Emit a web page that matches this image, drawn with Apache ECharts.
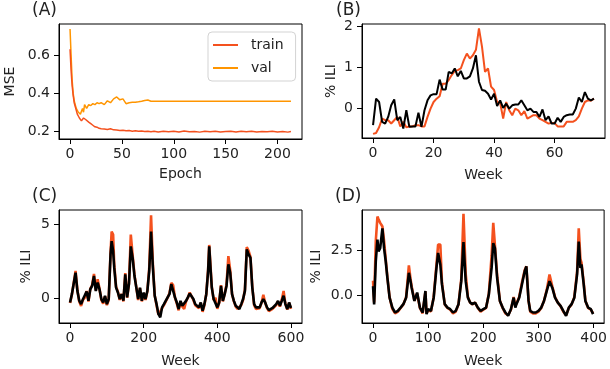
<!DOCTYPE html>
<html>
<head>
<meta charset="utf-8">
<script src="https://cdn.jsdelivr.net/npm/echarts@6/dist/echarts.min.js"></script>
<style>
  html, body { margin: 0; padding: 0; background: #fff; }
  #chart { width: 610px; height: 369px; }
</style>
</head>
<body>
<div id="chart"></div>
<script>
// (A) training curves
const epochsA = [0,1,2,3,4,5,6,7,8,9,10,11,12,13,14,15,16,18,20,22,24,26,28,30,33,36,39,42,45,48,51,54,57,60,63,66,69,72,75,78,81,85,90,95,100,105,110,115,120,125,130,135,140,145,150,155,160,165,170,175,180,185,190,195,200,205,210,213]
const trainA = [0.63,0.52,0.44,0.39,0.35,0.33,0.31,0.29,0.285,0.27,0.26,0.255,0.265,0.27,0.275,0.262,0.255,0.248,0.24,0.232,0.224,0.222,0.216,0.214,0.212,0.21,0.214,0.208,0.207,0.205,0.206,0.203,0.204,0.201,0.203,0.2,0.202,0.199,0.201,0.198,0.2,0.197,0.201,0.198,0.2,0.197,0.202,0.198,0.199,0.196,0.2,0.198,0.201,0.197,0.199,0.2,0.197,0.2,0.198,0.2,0.197,0.199,0.198,0.2,0.197,0.199,0.196,0.199]
const valA = [0.736,0.6,0.47,0.4,0.36,0.34,0.32,0.31,0.3,0.295,0.29,0.305,0.32,0.3,0.34,0.33,0.32,0.34,0.335,0.345,0.34,0.35,0.345,0.35,0.34,0.36,0.35,0.37,0.38,0.365,0.37,0.345,0.35,0.352,0.353,0.355,0.358,0.362,0.364,0.358,0.357,0.357,0.357,0.357,0.357,0.357,0.357,0.357,0.357,0.357,0.357,0.357,0.357,0.357,0.357,0.357,0.357,0.357,0.357,0.357,0.357,0.357,0.357,0.357,0.357,0.357,0.357,0.357]

// (B) one season, weeks 0..73
const predB = [-0.61,-0.59,-0.45,-0.24,-0.28,-0.28,-0.36,-0.28,-0.2,-0.43,-0.32,-0.45,-0.43,-0.43,-0.4,-0.4,-0.43,-0.43,-0.2,0,0.16,0.24,0.3,0.6,0.6,0.69,0.81,0.91,0.93,0.97,1.17,1.33,1.21,1.29,1.42,1.94,1.5,0.89,0.97,0.53,0.45,0.16,0.14,-0.24,0.16,-0.04,-0.16,0,-0.04,-0.16,-0.06,-0.24,-0.2,-0.16,-0.16,-0.24,-0.28,-0.32,-0.36,-0.35,-0.35,-0.43,-0.43,-0.43,-0.32,-0.32,-0.32,-0.28,-0.19,0,0.16,0.2,0.19,0.24]
const trueB = [-0.4,0.24,0.16,-0.32,-0.36,-0.2,0.08,0.22,-0.28,-0.2,-0.48,-0.04,-0.44,-0.43,-0.43,-0.1,-0.44,-0.04,0.2,0.32,0.35,0.35,0.7,0.46,0.46,0.89,0.85,0.97,0.78,0.91,0.73,0.73,0.78,0.97,1.29,0.65,0.45,0.43,0.36,0.22,0.36,0.06,0.2,0.02,0.12,0,0.08,0.1,0.1,0.2,0.08,-0.04,0,-0.08,-0.08,-0.2,-0.02,-0.28,-0.19,-0.36,-0.36,-0.22,-0.32,-0.2,-0.16,-0.14,-0.14,0,0.27,0.16,0.4,0.24,0.2,0.24]

// (C) 600 weeks
const weeksC = [0,5,10,15,20,25,30,35,40,45,50,55,60,65,70,75,80,85,90,95,100,105,110,113,117,120,125,130,135,140,145,150,155,160,165,170,175,180,185,190,195,200,205,210,215,220,225,230,235,240,245,250,255,260,265,270,275,280,285,290,295,300,305,310,315,320,325,330,335,340,345,350,355,360,365,370,375,378,382,385,390,395,400,405,410,415,420,425,430,435,440,445,450,455,460,465,470,475,480,485,490,495,500,505,510,515,520,525,530,535,540,545,550,555,560,565,570,575,580,585,590,595,600]
const trueC = [-0.27,0.29,0.18,1.73,0.5,-0.15,-0.38,-0.05,0.07,0.47,-0.15,0.62,0.84,1.51,0.5,1.07,0.62,-0.04,-0.27,0.18,-0.38,-0.04,2.96,3.85,3.2,2.07,0.73,0.4,-0.04,0.29,-0.15,1.62,0.07,0.96,3.5,2.73,1.51,0.73,-0.04,0.73,-0.15,0.4,-0.04,0.5,1.84,4.5,2.07,0.18,-0.38,-1.04,-1.27,-0.6,-0.38,-0.49,0.07,0.29,0.96,0.84,0.07,-0.27,-0.71,-0.16,-0.49,-0.6,-0.16,0.07,0.33,0.29,-0.04,-0.38,-0.49,-0.6,-0.27,-0.82,-0.38,0.29,1.84,3.5,1.84,0.73,-0.04,0.07,-0.6,-0.27,0.84,-0.16,0.29,0.84,2.3,1.73,0.29,-0.16,-0.49,-0.6,-0.71,-0.38,-0.04,0.51,3.3,2.96,2.73,0.73,-0.38,-0.6,-0.71,-0.6,-0.27,-0.04,-0.27,-0.6,-0.78,-0.78,-0.64,-0.6,-0.38,-0.16,-0.49,-0.16,0.18,-0.38,-0.71,-0.27,-0.64]
const predC = [-0.3,0.25,0.2,1.85,0.55,-0.2,-0.5,-0.1,0.05,0.5,-0.2,0.65,0.9,1.65,0.55,1.3,0.65,-0.1,-0.35,0.15,-0.45,-0.1,3.1,4.5,4.3,2.3,0.8,0.45,-0.1,0.3,-0.2,1.7,0.05,1.0,4.3,2.9,1.6,0.75,-0.1,0.7,-0.2,0.35,-0.1,0.5,2.0,5.6,2.3,0.2,-0.45,-1.1,-1.2,-0.65,-0.45,-0.55,0.05,0.35,1.05,0.9,0.05,-0.35,-0.8,-0.2,-0.55,-0.7,-0.2,0.05,0.4,0.3,-0.1,-0.45,-0.55,-0.65,-0.3,-0.9,-0.45,0.3,1.95,3.6,2.0,0.8,-0.1,0.05,-0.7,-0.3,0.9,-0.2,0.3,0.95,2.85,1.9,0.3,-0.2,-0.55,-0.7,-0.8,-0.45,-0.1,0.6,3.45,3.2,2.8,0.8,-0.45,-0.7,-0.8,-0.65,-0.3,0.25,-0.3,-0.65,-0.85,-0.85,-0.7,-0.65,-0.45,-0.2,-0.55,-0.1,0.5,-0.4,-0.75,-0.3,-0.7]

// (D) 400 weeks
const weeksD = [0,2,5,8,10,13,17,20,23,26,30,35,40,45,50,55,60,65,68,70,75,80,85,90,95,97,100,105,110,115,118,122,125,130,135,140,145,150,155,160,164,168,172,176,180,185,190,195,200,205,210,215,218,221,225,230,235,240,245,250,255,258,260,265,270,275,278,282,285,290,295,300,305,310,315,320,325,330,335,340,345,350,355,360,365,370,373,376,378,382,385,390,395,399]
const trueD = [0.5,-0.5,1.88,3.07,2.43,2.6,3.7,2.6,1.88,0.97,-0.13,-0.68,-0.95,-0.86,-0.68,-0.49,-0.13,1.24,0.78,0.42,-0.31,0.15,-0.68,-0.95,0.24,-1.04,-0.77,-0.86,-0.13,1.51,2.34,1.7,0.6,-0.49,-0.68,-0.77,-0.95,-0.86,-0.49,0.78,2.94,0.78,-0.13,-0.4,-0.49,-0.4,-0.68,-0.86,-0.77,-0.68,0.05,1.51,2.88,2.6,0.97,-0.31,-0.68,-0.95,-1.13,-0.77,-0.13,-0.68,-0.49,-0.13,0.6,1.33,1.6,-0.31,-0.86,-0.95,-0.95,-0.86,-0.68,-0.31,0.24,0.78,0.42,-0.13,-0.4,-0.58,-0.86,-1.13,-0.68,-0.49,-0.13,1.15,2.97,1.51,1.7,0.6,-0.31,-0.68,-0.77,-1.04]
const predD = [0.8,-0.4,3.0,4.35,4.2,4.0,3.8,3.0,2.0,1.0,-0.1,-0.75,-1.0,-0.9,-0.7,-0.5,-0.1,1.65,0.9,0.5,-0.3,0.1,-0.7,-1.0,0.2,-1.0,-0.8,-0.9,-0.1,1.7,2.8,2.8,0.7,-0.5,-0.7,-0.8,-1.0,-0.9,-0.5,0.9,4.5,1.2,-0.1,-0.4,-0.5,-0.4,-0.7,-0.9,-0.8,-0.7,0.1,2.2,4.0,4.1,1.1,-0.3,-0.7,-1.0,-1.1,-0.8,-0.1,-0.6,-0.5,-0.1,0.7,1.4,1.6,-0.3,-0.9,-1.0,-1.0,-0.9,-0.7,-0.3,0.3,1.15,0.5,-0.1,-0.4,-0.6,-0.9,-1.1,-0.7,-0.5,-0.1,1.3,3.7,2.0,1.8,0.7,-0.3,-0.7,-0.8,-1.0]

// tick labels
const xTicksA = [0, 50, 100, 150, 200]
const yTicksA = [0.2, 0.4, 0.6]
const xTicksB = [0, 20, 40, 60]
const yTicksB = [0, 1, 2]
const xTicksC = [0, 200, 400, 600]
const yTicksC = [0, 5]
const xTicksD = [0, 100, 200, 300, 400]
const yTicksD = [0, 2.5]

const FONT = 'DejaVu Sans'
const TEXT = '#222'
const RED = '#f4511e'
const ORANGE = '#ff9500'

function pairs(xs, ys) {
  return xs.map((x, i) => [x, ys[i]])
}

const axisLineStyle = { show: true, onZero: false, lineStyle: { color: '#000', width: 1 } }

function xAxis(gridIndex, min, max, ticks, name, nameGap) {
  return {
    type: 'value', gridIndex, min, max,
    name, nameLocation: 'middle', nameGap,
    nameTextStyle: { fontFamily: FONT, fontSize: 14, color: TEXT },
    axisLine: axisLineStyle,
    splitLine: { show: false },
    axisTick: { show: true, length: 5, inside: false, customValues: ticks, lineStyle: { color: '#000', width: 1 } },
    axisLabel: { customValues: ticks, margin: 8, fontFamily: FONT, fontSize: 14, color: TEXT },
  }
}

function yAxis(gridIndex, min, max, ticks, name, nameGap, fmt) {
  return {
    type: 'value', gridIndex, min, max,
    name, nameLocation: 'middle', nameGap,
    nameTextStyle: { fontFamily: FONT, fontSize: 14, color: TEXT },
    axisLine: axisLineStyle,
    splitLine: { show: false },
    axisTick: { show: true, length: 5, inside: false, customValues: ticks, lineStyle: { color: '#000', width: 1 } },
    axisLabel: {
      customValues: ticks, margin: 9, fontFamily: FONT, fontSize: 14, color: TEXT,
      formatter: fmt || ((v) => String(v)),
    },
  }
}

function line(name, xi, data, color, width, z) {
  return {
    name, type: 'line', xAxisIndex: xi, yAxisIndex: xi, data,
    symbol: 'none', animation: false, z,
    lineStyle: { color, width }, itemStyle: { color },
  }
}

function panelTitle(text, left, top) {
  return {
    text, left, top, padding: 0,
    textStyle: { fontFamily: FONT, fontSize: 17, fontWeight: 'normal', color: TEXT },
  }
}

const gridStyle = { show: true, borderColor: '#000', borderWidth: 1, backgroundColor: '#fff' }

const option = {
  backgroundColor: '#fff',
  animation: false,
  title: [
    panelTitle('(A)', 32, 2),
    panelTitle('(B)', 336, 2),
    panelTitle('(C)', 32, 188),
    panelTitle('(D)', 335, 188),
  ],
  legend: {
    data: ['train', 'val'],
    orient: 'vertical',
    left: 208, top: 32,
    icon: 'rect', itemWidth: 25, itemHeight: 2, itemGap: 7,
    padding: [5, 12, 5, 5],
    borderColor: '#d3d3d3', borderWidth: 1, borderRadius: 4,
    backgroundColor: 'rgba(255,255,255,0.85)',
    textStyle: { fontFamily: FONT, fontSize: 14, color: TEXT, lineHeight: 16, padding: [0, 0, 0, 8] },
  },
  grid: [
    { left: 59, top: 24, width: 243, height: 115, ...gridStyle },
    { left: 362, top: 24, width: 243, height: 114, ...gridStyle },
    { left: 59, top: 210, width: 243, height: 114, ...gridStyle },
    { left: 362, top: 210, width: 243, height: 114, ...gridStyle },
  ],
  xAxis: [
    xAxis(0, -10.65, 223.65, xTicksA, 'Epoch', 28),
    xAxis(1, -3.65, 76.65, xTicksB, 'Week', 30),
    xAxis(2, -30, 630, xTicksC, 'Week', 31),
    xAxis(3, -20, 419, xTicksD, 'Week', 31),
  ],
  yAxis: [
    yAxis(0, 0.16, 0.762, yTicksA, 'MSE', 42, (v) => v.toFixed(1)),
    yAxis(1, -0.71, 2.045, yTicksB, '% ILI', 24),
    yAxis(2, -1.65, 5.95, yTicksC, '% ILI', 26),
    yAxis(3, -1.53, 4.71, yTicksD, '% ILI', 39, (v) => v.toFixed(1)),
  ],
  series: [
    line('val', 0, pairs(epochsA, valA), ORANGE, 1.5, 2),
    line('train', 0, pairs(epochsA, trainA), RED, 1.5, 3),
    line('pred B', 1, predB.map((v, i) => [i, v]), RED, 2, 2),
    line('true B', 1, trueB.map((v, i) => [i, v]), '#000', 2, 3),
    line('pred C', 2, pairs(weeksC, predC), RED, 2.6, 2),
    line('true C', 2, pairs(weeksC, trueC), '#000', 2.6, 3),
    line('pred D', 3, pairs(weeksD, predD), RED, 2.6, 2),
    line('true D', 3, pairs(weeksD, trueD), '#000', 2.6, 3),
  ],
}

const chart = echarts.init(document.getElementById('chart'))
chart.setOption(option)
window.addEventListener('resize', () => chart.resize())
</script>
</body>
</html>
